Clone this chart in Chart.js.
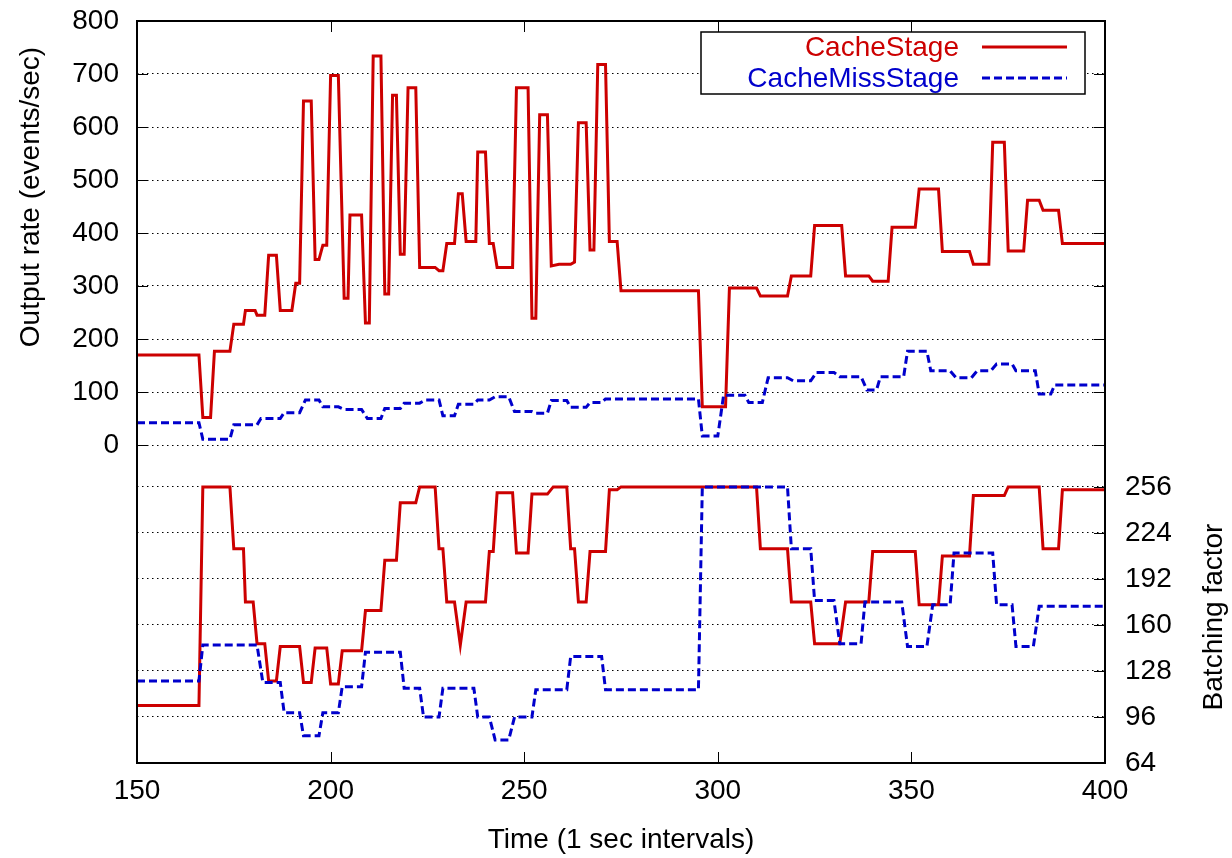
<!DOCTYPE html>
<html>
<head>
<meta charset="utf-8">
<script src="https://cdn.jsdelivr.net/npm/chart.js@4"></script>
<style>
  body { margin: 0; background: #fff; }
  canvas { display: block; }
</style>
</head>
<body>
<canvas id="stageChart" width="1232" height="858"></canvas>
<script>
// CacheStage output rate (events/sec) - corner points of the trace
const stageRateTime = [150,166,167,169,170,174,175,177.5,178,180.5,181,183,184,186,187,190,191,192,193,195,196,197,198,199,200,202,203.5,204.5,205,208,209,210,211,213,214,215,216,217,218,219,220,222,223,227,228,229,230,232,233,234,235,237.5,238,240,241,242,243,247,248,251,252,253,254,256,257,259,262,263,264,266,267,268,269,271,272,274,275,295,296,302,303,310,311,318,319,324,325,332,333,339,340,344,345,351,352,357,358,365,366,370,371,374,375,379,380,383,384,388,389,400];
const stageRateValue = [170,170,52,52,177,177,228,228,254,254,245,245,358,358,254,254,305,305,649,649,350,350,377,377,697,697,277,277,434,434,230,230,734,734,285,285,660,660,360,360,674,674,335,335,329,329,380,380,474,474,384,384,553,553,380,380,335,335,674,674,239,239,623,623,338,341,341,345,608,608,368,368,718,718,384,384,291,291,72,72,296,296,281,281,319,319,414,414,319,319,309,309,411,411,483,483,365,365,341,341,571,571,366,366,462,462,443,443,380,380];

// CacheMissStage output rate
const missRateTime = [150,166,167,174,175,181,182,187,188,192,193.5,197,198,202,203.5,208,209.5,213,214,218,219,223,224.5,228,229,232,233,237,238,241,242.5,246,247.5,252,253,256,257,261,262,266,267,270,271,295,296,300,301.5,307,308,311.5,313,318,319.5,324,325.5,330,331.5,337,338.5,341,342,348,349,354,355,360,361.5,365.5,367,370.5,372,376,377,382,383,386,387,400];
const missRateValue = [42,42,11,11,38,38,50,50,61,61,85,85,72,72,67,67,50,50,69,69,79,79,85,85,55,55,77,77,85,85,91,91,63,63,60,60,84,84,71,71,80,80,87,87,17,17,94,94,80,80,127,127,121,121,137,137,129,129,104,104,129,129,177,177,140,140,127,127,140,140,153,153,140,140,96,96,113,113];

// CacheStage batching factor
const stageBatchTime = [150,166,167,174,175,177.5,178,180,181,183,184,186,187,192,193,195,196,199,200,202,203,208,209,213,214,217,218,222,223,227,228,229,230,232,233.5,235,240,241,242,243,247,248,251,252,256,257.5,261,262,263,264,266,267,271,272,274,275,310,311,318,319,324,325,331.5,333,339,340,351,352,357,358,365,366,374,375,383,384,388,389,400];
const stageBatchValue = [104,104,256,256,213,213,176,176,147,147,121,121,145,145,120,120,144,144,119,119,142,142,170,170,205,205,245,245,256,256,213,213,176,176,146,176,176,211,211,252,252,210,210,251,251,256,256,213,213,176,176,211,211,254,254,256,256,213,213,176,176,147,147,176,176,211,211,174,174,208,208,250,250,256,256,213,213,254,254];

// CacheMissStage batching factor
const missBatchTime = [150,166,167,181,182.5,187,188,192,193,197,198,202,203,208,209,218,219,223,224,228,229,237,238,241,242.5,246,247.5,252,253,261,262,270,271,295,296,318,319,324,325,330,331.5,337,338,347.5,349,354,355.5,360,361,371,372,376,377,381.5,383,400];
const missBatchValue = [121,121,146,146,120,120,99,99,83,83,99,99,117,117,141,141,116,116,96,96,116,116,96,96,80,80,96,96,115,115,138,138,115,115,256,256,213,213,177,177,147,147,176,176,145,145,174,174,210,210,174,174,145,145,173,173];

const timeTicks = [150, 200, 250, 300, 350, 400];
const rateTicks = [0, 100, 200, 300, 400, 500, 600, 700, 800];
const batchTicks = [64, 96, 128, 160, 192, 224, 256];

const RED = '#cc0000';
const BLUE = '#0000cc';
const FONT = "'Liberation Sans', Arial, Helvetica, sans-serif";
const FSIZE = 28;

function toPoints(xs, ys) {
    return xs.map((x, i) => ({ x: x, y: ys[i] }));
}

// chart area is fixed, so drop the extra room Chart.js keeps for end labels
function noEndPadding(s) {
    s.paddingTop = 0; s.paddingBottom = 0;
    s.paddingLeft = 0; s.paddingRight = 0;
}

// gnuplot style frame, inward ticks, axis titles and legend box
const gnuplotFrame = {
    id: 'gnuplotFrame',
    afterDatasetsDraw(chart) {
        const { ctx, chartArea: a, scales } = chart;
        const tl = 11;
        ctx.save();
        ctx.strokeStyle = '#000';
        ctx.lineWidth = 1;
        ctx.setLineDash([]);
        ctx.beginPath();
        timeTicks.forEach(v => {
            const px = Math.round(scales.x.getPixelForValue(v)) + 0.5;
            ctx.moveTo(px, a.bottom); ctx.lineTo(px, a.bottom - tl);
            ctx.moveTo(px, a.top); ctx.lineTo(px, a.top + tl);
        });
        rateTicks.forEach(v => {
            const py = Math.round(scales.y.getPixelForValue(v)) + 0.5;
            ctx.moveTo(a.left, py); ctx.lineTo(a.left + tl, py);
            ctx.moveTo(a.right, py); ctx.lineTo(a.right - tl, py);
        });
        batchTicks.forEach(v => {
            const py = Math.round(scales.y2.getPixelForValue(v)) + 0.5;
            ctx.moveTo(a.right, py); ctx.lineTo(a.right - tl, py);
        });
        ctx.stroke();
        ctx.lineWidth = 2;
        ctx.strokeRect(a.left, a.top, a.right - a.left, a.bottom - a.top);

        // y titles, both reading bottom to top
        ctx.fillStyle = '#000';
        ctx.font = FSIZE + 'px ' + FONT;
        ctx.textAlign = 'center';
        ctx.textBaseline = 'middle';
        [['Output rate (events/sec)', 31, 197], ['Batching factor', 1214, 617]].forEach(([t, x, y]) => {
            ctx.save();
            ctx.translate(x, y);
            ctx.rotate(-Math.PI / 2);
            ctx.fillText(t, 0, 0);
            ctx.restore();
        });

        // legend
        const bx = a.right - 404, by = a.top + 11, bw = 384, bh = 62;
        ctx.fillStyle = '#fff';
        ctx.fillRect(bx, by, bw, bh);
        ctx.lineWidth = 1.5;
        ctx.strokeStyle = '#000';
        ctx.strokeRect(bx, by, bw, bh);
        ctx.textAlign = 'right';
        [0, 1].forEach(i => {
            const ds = chart.data.datasets[i];
            const cy = by + 15 + i * 31;
            ctx.fillStyle = ds.borderColor;
            ctx.fillText(ds.label, bx + 258, cy + 1);
            ctx.strokeStyle = ds.borderColor;
            ctx.lineWidth = ds.borderWidth;
            ctx.setLineDash(ds.borderDash || []);
            ctx.beginPath();
            ctx.moveTo(bx + 281, cy);
            ctx.lineTo(bx + 366, cy);
            ctx.stroke();
        });
        ctx.restore();
    }
};

const common = { borderWidth: 3, pointRadius: 0, tension: 0, fill: false };

new Chart(document.getElementById('stageChart'), {
    type: 'line',
    data: {
        datasets: [
            Object.assign({ label: 'CacheStage', data: toPoints(stageRateTime, stageRateValue), borderColor: RED, yAxisID: 'y', order: 2 }, common),
            Object.assign({ label: 'CacheMissStage', data: toPoints(missRateTime, missRateValue), borderColor: BLUE, borderDash: [8, 4], yAxisID: 'y', order: 1 }, common),
            Object.assign({ label: 'CacheStage batching', data: toPoints(stageBatchTime, stageBatchValue), borderColor: RED, yAxisID: 'y2', order: 2 }, common),
            Object.assign({ label: 'CacheMissStage batching', data: toPoints(missBatchTime, missBatchValue), borderColor: BLUE, borderDash: [8, 4], yAxisID: 'y2', order: 1 }, common)
        ]
    },
    options: {
        responsive: false,
        animation: false,
        devicePixelRatio: 1,
        layout: { padding: { top: 21, left: 0, right: 0, bottom: 0 } },
        plugins: { legend: { display: false }, tooltip: { enabled: false } },
        scales: {
            x: {
                type: 'linear', min: 150, max: 400,
                afterBuildTicks: s => { s.ticks = timeTicks.map(v => ({ value: v })); },
                afterFit: s => { s.height = 95; noEndPadding(s); },
                grid: { display: false },
                border: { display: false },
                ticks: { color: '#000', padding: 3, autoSkip: false, maxRotation: 0, font: { family: FONT, size: FSIZE } },
                title: { display: true, text: 'Time (1 sec intervals)', color: '#000', padding: { top: 0, bottom: 1 }, font: { family: FONT, size: FSIZE } }
            },
            y: {
                position: 'left', min: -600, max: 800,
                afterBuildTicks: s => { s.ticks = rateTicks.map(v => ({ value: v })); },
                afterFit: s => { s.width = 137; noEndPadding(s); },
                grid: { color: '#000', lineWidth: 1, drawTicks: false },
                border: { display: false, dash: [1.5, 3.5] },
                ticks: { color: '#000', padding: 18, autoSkip: false, font: { family: FONT, size: FSIZE } }
            },
            y2: {
                position: 'right', min: 64, max: 580,
                afterBuildTicks: s => { s.ticks = batchTicks.map(v => ({ value: v })); },
                afterFit: s => { s.width = 127; noEndPadding(s); },
                grid: { color: '#000', lineWidth: 1, drawTicks: false },
                border: { display: false, dash: [1.5, 3.5] },
                ticks: { color: '#000', padding: 20, autoSkip: false, font: { family: FONT, size: FSIZE } }
            }
        }
    },
    plugins: [gnuplotFrame]
});
</script>
</body>
</html>
